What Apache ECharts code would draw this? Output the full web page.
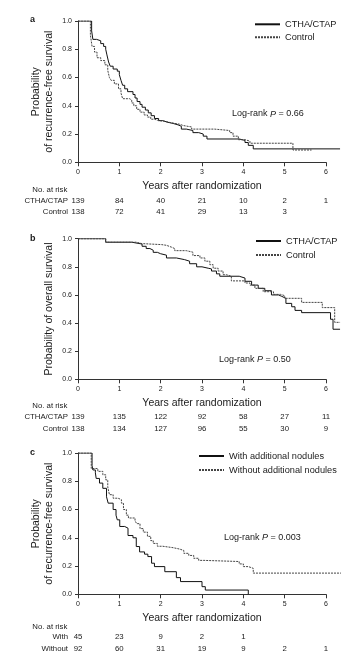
<!DOCTYPE html>
<html>
<head>
<meta charset="utf-8">
<script src="https://cdn.jsdelivr.net/npm/echarts@6/dist/echarts.min.js"></script>
<style>
html,body{margin:0;padding:0;background:#fff;}
#c{width:355px;height:663px;}
</style>
</head>
<body>
<div id="c"></div>
<script>
// ---------- DATA ----------
const xTicks = [0, 1, 2, 3, 4, 5, 6];

// Panel a: recurrence-free survival, CTHA/CTAP vs Control
const aTreatTime = [0, 0.33, 0.36, 0.45, 0.55, 0.62, 0.67, 0.70, 0.74, 0.78, 0.85, 0.95, 1.00, 1.04, 1.08, 1.13, 1.20, 1.33, 1.38, 1.43, 1.50, 1.55, 1.63, 1.70, 1.77, 1.85, 1.95, 2.05, 2.15, 2.30, 2.42, 2.50, 2.62, 2.78, 2.92, 3.03, 3.12, 3.90, 4.04, 4.12, 4.24, 6.34];
const aTreatSurv = [1, 0.93, 0.87, 0.86, 0.84, 0.82, 0.80, 0.76, 0.71, 0.68, 0.66, 0.645, 0.62, 0.58, 0.545, 0.52, 0.50, 0.48, 0.455, 0.43, 0.41, 0.39, 0.37, 0.35, 0.33, 0.31, 0.295, 0.285, 0.275, 0.265, 0.255, 0.235, 0.225, 0.21, 0.20, 0.185, 0.165, 0.155, 0.14, 0.12, 0.095, 0.095];
const aCtrlTime = [0, 0.30, 0.34, 0.40, 0.46, 0.55, 0.65, 0.72, 0.76, 0.80, 0.88, 0.98, 1.04, 1.08, 1.25, 1.30, 1.35, 1.42, 1.50, 1.60, 1.68, 1.76, 1.85, 1.95, 2.10, 2.25, 2.45, 2.55, 2.75, 3.30, 3.67, 3.75, 3.88, 4.04, 4.16, 5.20, 5.65];
const aCtrlSurv = [1, 0.90, 0.82, 0.78, 0.74, 0.72, 0.69, 0.65, 0.60, 0.58, 0.555, 0.52, 0.49, 0.45, 0.44, 0.42, 0.40, 0.375, 0.355, 0.335, 0.32, 0.305, 0.295, 0.29, 0.28, 0.27, 0.26, 0.25, 0.235, 0.225, 0.21, 0.185, 0.16, 0.15, 0.135, 0.087, 0.087];
const aRiskTreat = [139, 84, 40, 21, 10, 2, 1];
const aRiskCtrl = [138, 72, 41, 29, 13, 3, null];

// Panel b: overall survival
const bTreatTime = [0, 0.67, 1.30, 1.55, 1.65, 1.74, 1.82, 1.92, 2.00, 2.14, 2.38, 2.58, 2.70, 2.87, 3.00, 3.15, 3.23, 3.35, 3.43, 3.90, 4.04, 4.20, 4.36, 4.52, 4.68, 4.85, 4.93, 5.03, 5.17, 5.25, 5.41, 6.11, 6.17, 6.34];
const bTreatSurv = [1, 0.975, 0.962, 0.946, 0.93, 0.918, 0.903, 0.893, 0.883, 0.863, 0.851, 0.84, 0.822, 0.80, 0.79, 0.785, 0.77, 0.75, 0.733, 0.72, 0.697, 0.67, 0.647, 0.63, 0.60, 0.59, 0.576, 0.54, 0.516, 0.49, 0.474, 0.427, 0.356, 0.356];
const bCtrlTime = [0, 0.67, 1.41, 1.55, 2.02, 2.14, 2.26, 2.34, 2.62, 2.78, 2.95, 3.07, 3.19, 3.27, 3.39, 3.51, 3.59, 3.71, 4.04, 4.16, 4.28, 4.48, 4.73, 4.90, 5.00, 5.41, 5.91, 6.21, 6.34];
const bCtrlSurv = [1, 0.975, 0.965, 0.958, 0.953, 0.94, 0.93, 0.915, 0.904, 0.88, 0.863, 0.84, 0.815, 0.79, 0.77, 0.744, 0.733, 0.70, 0.685, 0.67, 0.647, 0.623, 0.604, 0.595, 0.576, 0.547, 0.51, 0.405, 0.405];
const bRiskTreat = [139, 135, 122, 92, 58, 27, 11];
const bRiskCtrl = [138, 134, 127, 96, 55, 30, 9];

// Panel c: recurrence-free survival by additional nodules
const cWithTime = [0, 0.34, 0.36, 0.42, 0.44, 0.52, 0.60, 0.69, 0.73, 0.85, 0.92, 0.95, 1.01, 1.13, 1.21, 1.33, 1.41, 1.49, 1.61, 1.69, 1.78, 1.85, 2.10, 2.38, 2.48, 3.00, 3.08, 4.12];
const cWithSurv = [1, 0.91, 0.88, 0.86, 0.82, 0.787, 0.75, 0.69, 0.645, 0.60, 0.56, 0.527, 0.48, 0.468, 0.416, 0.40, 0.338, 0.30, 0.284, 0.267, 0.22, 0.196, 0.16, 0.118, 0.09, 0.054, 0.03, 0];
const cWithoutTime = [0, 0.32, 0.48, 0.60, 0.67, 0.72, 0.76, 0.85, 0.97, 1.05, 1.10, 1.17, 1.22, 1.38, 1.42, 1.50, 1.58, 1.68, 1.76, 1.82, 1.92, 2.05, 2.30, 2.46, 2.56, 2.68, 2.80, 2.92, 3.05, 3.90, 4.00, 4.12, 4.24, 6.36];
const cWithoutSurv = [1, 0.89, 0.87, 0.846, 0.81, 0.76, 0.705, 0.68, 0.67, 0.645, 0.60, 0.56, 0.54, 0.52, 0.50, 0.465, 0.44, 0.41, 0.38, 0.36, 0.34, 0.33, 0.32, 0.31, 0.29, 0.275, 0.255, 0.24, 0.232, 0.215, 0.196, 0.184, 0.15, 0.15];
const cRiskWith = [45, 23, 9, 2, 1, null, null];
const cRiskWithout = [92, 60, 31, 19, 9, 2, 1];

const panelLetters = ['a', 'b', 'c'];
const seriesNames = [['CTHA/CTAP', 'Control'], ['CTHA/CTAP', 'Control'], ['With additional nodules', 'Without additional nodules']];
const riskRowLabels = [['CTHA/CTAP', 'Control'], ['CTHA/CTAP', 'Control'], ['With', 'Without']];
const yNames = ['Probability\nof recurrence-free survival', 'Probability of overall survival', 'Probability\nof recurrence-free survival'];
const xName = 'Years after randomization';
const pValues = ['0.66', '0.50', '0.003'];

// ---------- LAYOUT ----------
const FONT = '"Liberation Sans", Arial, Helvetica, sans-serif';
const TXT = '#1a1a1a';
const AX = '#333';
const GRID_LEFT = 78, GRID_W = 248;      // visible axis 0..6 years
const DATA_MAX = 6.4;                      // curves run a little past the last tick
const panels = [
  {top: 21, height: 141.3, legendLeft: 254, legendTop: 18.3, legendGap: 1, pX: 232, pY: 114, letterY: 20, riskOff: [38.7, 50], noRiskY: 190,
   curves: [[aTreatTime, aTreatSurv], [aCtrlTime, aCtrlSurv]], risk: [aRiskTreat, aRiskCtrl]},
  {top: 238.7, height: 140.6, legendLeft: 255, legendTop: 235, legendGap: 2, pX: 219, pY: 359.3, letterY: 238.7, riskOff: [38, 49.7], noRiskY: 406,
   curves: [[bTreatTime, bTreatSurv], [bCtrlTime, bCtrlSurv]], risk: [bRiskTreat, bRiskCtrl]},
  {top: 453, height: 141.3, legendLeft: 198, legendTop: 450, legendGap: 2, pX: 224, pY: 537.7, letterY: 452.3, riskOff: [43, 54.4], noRiskY: 626.7,
   curves: [[cWithTime, cWithSurv], [cWithoutTime, cWithoutSurv]], risk: [cRiskWith, cRiskWithout]}
];

const lineStyles = [
  {color: '#111', width: 1, type: 'solid'},
  {color: '#444', width: 1, type: [2, 1]}
];

const grids = [], xAxes = [], yAxes = [], series = [], legends = [], graphics = [];

// visible grids (axes only): indices 0..2
panels.forEach((p, i) => {
  grids.push({left: GRID_LEFT, width: GRID_W, top: p.top, height: p.height, containLabel: false, outerBoundsMode: 'none'});
});
// data grids (invisible axes): indices 3..5, same scale, slightly wider range
panels.forEach((p, i) => {
  grids.push({left: GRID_LEFT, width: GRID_W * DATA_MAX / 6, top: p.top, height: p.height, containLabel: false, outerBoundsMode: 'none'});
});

panels.forEach((p, i) => {
  xAxes.push({
    type: 'value', gridIndex: i, min: 0, max: 6, interval: 1, position: 'bottom',
    name: xName, nameLocation: 'middle', nameGap: 18, nameMoveOverlap: false,
    nameTextStyle: {fontSize: 10.5, color: TXT, fontFamily: FONT},
    axisLine: {show: true, onZero: false, lineStyle: {color: AX, width: 1}},
    axisTick: {show: true, length: 4, inside: false, lineStyle: {color: AX, width: 1}},
    axisLabel: {fontSize: 7, color: TXT, fontFamily: FONT, margin: 6},
    splitLine: {show: false}
  });
  p.risk.forEach((counts, r) => {
    xAxes.push({
      type: 'value', gridIndex: i, min: 0, max: 6, interval: 1, position: 'bottom', offset: p.riskOff[r],
      axisLine: {show: false}, axisTick: {show: false}, splitLine: {show: false},
      axisLabel: {
        margin: 0, verticalAlign: 'middle', fontSize: 7.8, color: TXT, fontFamily: FONT,
        formatter: v => { const c = counts[Math.round(v)]; return c == null ? '' : String(c); }
      }
    });
    graphics.push({type: 'text', x: 68, y: p.top + p.height + p.riskOff[r],
      style: {text: riskRowLabels[i][r], fill: TXT, fontSize: 7.8, fontFamily: FONT, align: 'right', verticalAlign: 'middle'}});
  });
  yAxes.push({
    type: 'value', gridIndex: i, min: 0, max: 1, interval: 0.2,
    name: yNames[i], nameLocation: 'middle', nameGap: 22, nameMoveOverlap: false,
    nameTextStyle: {fontSize: 10.5, lineHeight: 13, color: TXT, fontFamily: FONT},
    axisLine: {show: true, onZero: false, lineStyle: {color: AX, width: 1}},
    axisTick: {show: true, length: 3, lineStyle: {color: AX, width: 1}},
    axisLabel: {fontSize: 7, color: TXT, fontFamily: FONT, margin: 6, formatter: v => v.toFixed(1)},
    splitLine: {show: false}
  });
});

panels.forEach((p, i) => {
  const gi = panels.length + i;
  const xi = xAxes.length;
  xAxes.push({type: 'value', gridIndex: gi, min: 0, max: DATA_MAX, show: false});
  const yi = yAxes.length;
  yAxes.push({type: 'value', gridIndex: gi, min: 0, max: 1, show: false});
  p.curves.forEach((cv, k) => {
    series.push({
      type: 'line', name: seriesNames[i][k], xAxisIndex: xi, yAxisIndex: yi,
      step: 'end', symbol: 'none', showSymbol: false, silent: true, animation: false,
      lineStyle: lineStyles[k], itemStyle: {color: lineStyles[k].color},
      data: cv[0].map((t, j) => [t, cv[1][j]])
    });
  });
  legends.push({
    data: seriesNames[i], orient: 'vertical', left: p.legendLeft, top: p.legendTop,
    itemWidth: 25, itemHeight: 10, itemGap: p.legendGap, padding: 0, selectedMode: false,
    itemStyle: {opacity: 0},
    textStyle: {fontSize: 9.2, lineHeight: 12, color: TXT, fontFamily: FONT}
  });
  graphics.push({type: 'text', x: 30, y: p.letterY,
    style: {text: panelLetters[i], fill: TXT, fontSize: 9, fontWeight: 'bold', fontFamily: FONT, verticalAlign: 'middle'}});
  graphics.push({type: 'text', x: 32.3, y: p.noRiskY,
    style: {text: 'No. at risk', fill: TXT, fontSize: 7.8, fontFamily: FONT, verticalAlign: 'middle'}});
  graphics.push({type: 'text', x: p.pX, y: p.pY,
    style: {
      text: '{n|Log-rank }{i|P}{n| = ' + pValues[i] + '}', fill: TXT, fontSize: 9, fontFamily: FONT, verticalAlign: 'middle',
      rich: {n: {fontSize: 9, fontFamily: FONT, fill: TXT}, i: {fontSize: 9, fontFamily: FONT, fontStyle: 'italic', fill: TXT}}
    }});
});

const chart = echarts.init(document.getElementById('c'), null, {renderer: 'canvas'});
chart.setOption({
  backgroundColor: '#fff',
  animation: false,
  textStyle: {fontFamily: FONT},
  grid: grids,
  xAxis: xAxes,
  yAxis: yAxes,
  legend: legends,
  series: series,
  graphic: graphics
});
</script>
</body>
</html>
